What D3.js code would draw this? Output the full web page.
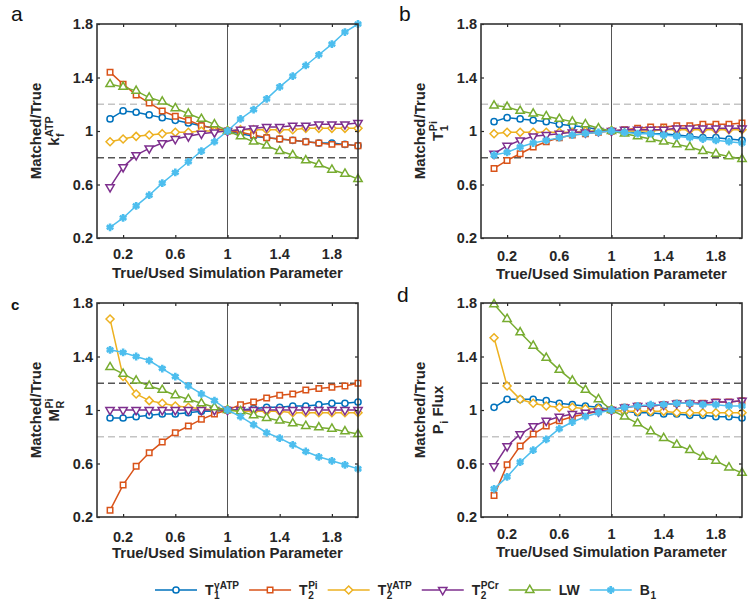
<!DOCTYPE html>
<html>
<head>
<meta charset="utf-8">
<script src="https://cdn.jsdelivr.net/npm/d3@7"></script>
<style>
  body { margin: 0; background: #fff; }
  text { font-family: "Liberation Sans", Arial, sans-serif; }
</style>
</head>
<body>
<svg id="chart" width="748" height="606"></svg>
<script>
// x values (true/used simulation parameter)
const xVals = [0.1, 0.2, 0.3, 0.4, 0.5, 0.6, 0.7, 0.8, 0.9, 1.0,
               1.1, 1.2, 1.3, 1.4, 1.5, 1.6, 1.7, 1.8, 1.9, 2.0];
const xTicks = [0.2, 0.6, 1, 1.4, 1.8];
const yTicks = [0.2, 0.6, 1, 1.4, 1.8];
const refLevels = [1.2, 0.8];

// panel a : kf ATP
const a_T1gATP = [1.09, 1.15, 1.14, 1.12, 1.10, 1.08, 1.06, 1.04, 1.02, 1.00, 0.98, 0.96, 0.95, 0.94, 0.93, 0.92, 0.91, 0.91, 0.90, 0.89];
const a_T2Pi   = [1.44, 1.35, 1.27, 1.21, 1.15, 1.11, 1.08, 1.04, 1.02, 1.00, 0.99, 0.97, 0.95, 0.94, 0.93, 0.92, 0.91, 0.90, 0.90, 0.89];
const a_T2gATP = [0.92, 0.94, 0.96, 0.97, 0.98, 0.99, 0.99, 1.00, 1.00, 1.00, 1.01, 1.01, 1.01, 1.01, 1.01, 1.02, 1.02, 1.02, 1.02, 1.02];
const a_T2PCr  = [0.58, 0.73, 0.82, 0.87, 0.91, 0.94, 0.96, 0.98, 0.99, 1.00, 1.01, 1.02, 1.03, 1.03, 1.04, 1.04, 1.05, 1.05, 1.05, 1.06];
const a_LW     = [1.35, 1.33, 1.30, 1.25, 1.22, 1.17, 1.13, 1.09, 1.05, 1.00, 0.96, 0.92, 0.89, 0.85, 0.82, 0.78, 0.75, 0.71, 0.68, 0.64];
const a_B1     = [0.28, 0.35, 0.44, 0.52, 0.61, 0.69, 0.77, 0.85, 0.92, 1.00, 1.09, 1.16, 1.24, 1.33, 1.41, 1.49, 1.57, 1.65, 1.74, 1.80];

// panel b : T1 Pi
const b_T1gATP = [1.07, 1.10, 1.09, 1.08, 1.07, 1.05, 1.04, 1.03, 1.01, 1.00, 0.99, 0.99, 0.98, 0.98, 0.97, 0.96, 0.95, 0.95, 0.94, 0.93];
const b_T2Pi   = [0.72, 0.78, 0.83, 0.88, 0.92, 0.95, 0.97, 0.98, 0.99, 1.00, 1.01, 1.02, 1.03, 1.03, 1.04, 1.04, 1.05, 1.05, 1.05, 1.06];
const b_T2gATP = [0.98, 0.99, 0.99, 0.99, 0.99, 0.99, 0.99, 1.00, 1.00, 1.00, 1.00, 1.00, 1.00, 1.01, 1.01, 1.01, 1.01, 1.01, 1.01, 1.01];
const b_T2PCr  = [0.83, 0.89, 0.93, 0.96, 0.97, 0.98, 0.99, 0.99, 1.00, 1.00, 1.01, 1.01, 1.01, 1.01, 1.02, 1.02, 1.02, 1.02, 1.02, 1.02];
const b_LW     = [1.19, 1.18, 1.15, 1.13, 1.11, 1.09, 1.07, 1.05, 1.02, 1.00, 0.98, 0.96, 0.94, 0.92, 0.90, 0.88, 0.85, 0.83, 0.81, 0.79];
const b_B1     = [0.82, 0.84, 0.88, 0.91, 0.93, 0.95, 0.97, 0.98, 0.99, 1.00, 0.99, 0.98, 0.98, 0.97, 0.96, 0.95, 0.94, 0.93, 0.92, 0.91];

// panel c : MR Pi
const c_T1gATP = [0.94, 0.94, 0.95, 0.96, 0.97, 0.97, 0.98, 0.99, 0.99, 1.00, 1.00, 1.01, 1.02, 1.02, 1.03, 1.03, 1.04, 1.05, 1.05, 1.06];
const c_T2Pi   = [0.25, 0.44, 0.58, 0.68, 0.76, 0.83, 0.88, 0.93, 0.97, 1.00, 1.04, 1.06, 1.09, 1.11, 1.12, 1.15, 1.16, 1.17, 1.18, 1.20];
const c_T2gATP = [1.68, 1.25, 1.12, 1.07, 1.05, 1.03, 1.02, 1.01, 1.00, 1.00, 0.99, 0.99, 0.99, 0.99, 0.98, 0.98, 0.98, 0.98, 0.98, 0.98];
const c_T2PCr  = [1.00, 1.00, 1.00, 1.00, 1.00, 1.00, 1.00, 1.00, 1.00, 1.00, 1.00, 1.00, 1.00, 1.00, 1.00, 1.00, 1.00, 1.00, 1.00, 1.00];
const c_LW     = [1.32, 1.27, 1.22, 1.18, 1.15, 1.11, 1.08, 1.05, 1.02, 1.00, 0.99, 0.96, 0.94, 0.92, 0.90, 0.88, 0.87, 0.86, 0.84, 0.82];
const c_B1     = [1.45, 1.43, 1.40, 1.37, 1.31, 1.25, 1.18, 1.12, 1.07, 1.00, 0.95, 0.89, 0.83, 0.79, 0.74, 0.69, 0.65, 0.62, 0.59, 0.56];

// panel d : Pi flux
const d_T1gATP = [1.02, 1.08, 1.08, 1.08, 1.07, 1.05, 1.04, 1.03, 1.02, 1.00, 0.99, 0.98, 0.98, 0.97, 0.97, 0.96, 0.96, 0.95, 0.95, 0.94];
const d_T2Pi   = [0.36, 0.59, 0.73, 0.82, 0.88, 0.92, 0.95, 0.97, 0.99, 1.00, 1.02, 1.03, 1.03, 1.04, 1.05, 1.05, 1.05, 1.06, 1.06, 1.07];
const d_T2gATP = [1.54, 1.18, 1.08, 1.05, 1.03, 1.02, 1.02, 1.01, 1.01, 1.00, 0.99, 0.99, 0.99, 0.99, 0.98, 0.98, 0.98, 0.98, 0.98, 0.98];
const d_T2PCr  = [0.58, 0.73, 0.82, 0.88, 0.92, 0.95, 0.97, 0.98, 0.99, 1.00, 1.02, 1.03, 1.03, 1.04, 1.05, 1.05, 1.05, 1.06, 1.06, 1.07];
const d_LW     = [1.79, 1.68, 1.58, 1.48, 1.39, 1.30, 1.22, 1.15, 1.08, 1.00, 0.95, 0.90, 0.84, 0.79, 0.74, 0.70, 0.65, 0.62, 0.57, 0.53];
const d_B1     = [0.41, 0.50, 0.61, 0.70, 0.78, 0.86, 0.91, 0.95, 0.98, 1.00, 1.02, 1.03, 1.04, 1.04, 1.05, 1.05, 1.04, 1.04, 1.03, 1.03];

// series look (order = drawing order)
const series = [
    {key: 'T1gATP', color: '#0072BD', marker: 'circle',   base: 'T', sub: '1', sup: '\u03B3ATP'},
    {key: 'T2Pi',   color: '#D95319', marker: 'square',   base: 'T', sub: '2', sup: 'Pi'},
    {key: 'T2gATP', color: '#EDB120', marker: 'diamond',  base: 'T', sub: '2', sup: '\u03B3ATP'},
    {key: 'T2PCr',  color: '#7E2F8E', marker: 'triDown',  base: 'T', sub: '2', sup: 'PCr'},
    {key: 'LW',     color: '#77AC30', marker: 'triUp',    base: 'LW', sub: '', sup: ''},
    {key: 'B1',     color: '#4DBEEE', marker: 'asterisk', base: 'B', sub: '1', sup: ''}
];

const panels = [
    {letter: 'a', lx: 11, ly: 21, lsize: 21, lweight: 400, left: 97, right: 358, top: 24, bottom: 238, tickY: 259, titleY: 278,
     ylab: {base: 'k', sub: 'f', sup: 'ATP', tail: ''}, dark: 0.8,
     data: [a_T1gATP, a_T2Pi, a_T2gATP, a_T2PCr, a_LW, a_B1]},
    {letter: 'b', lx: 399, ly: 21, lsize: 21, lweight: 400, left: 481, right: 742, top: 24, bottom: 238, tickY: 261, titleY: 279,
     ylab: {base: 'T', sub: '1', sup: 'Pi', tail: ''}, dark: 0.8,
     data: [b_T1gATP, b_T2Pi, b_T2gATP, b_T2PCr, b_LW, b_B1]},
    {letter: 'c', lx: 11, ly: 310, lsize: 15, lweight: 700, left: 97, right: 358, top: 303, bottom: 517, tickY: 542, titleY: 558,
     ylab: {base: 'M', sub: 'R', sup: 'Pi', tail: ''}, dark: 1.2,
     data: [c_T1gATP, c_T2Pi, c_T2gATP, c_T2PCr, c_LW, c_B1]},
    {letter: 'd', lx: 397, ly: 302, lsize: 21, lweight: 400, left: 481, right: 742, top: 303, bottom: 517, tickY: 539, titleY: 557,
     ylab: {base: 'P', sub: 'i', sup: '', tail: ' Flux'}, dark: 1.2,
     data: [d_T1gATP, d_T2Pi, d_T2gATP, d_T2PCr, d_LW, d_B1]}
];

const svg = d3.select('#chart');
const textColor = '#262626';

function markerPath(type) {
    if (type === 'circle') return d3.symbol(d3.symbolCircle, 30)();
    if (type === 'square') return d3.symbol(d3.symbolSquare, 30)();
    if (type === 'diamond') return 'M0,-4L4,0L0,4L-4,0Z';
    if (type === 'triUp') return d3.symbol(d3.symbolTriangle, 30)();
    if (type === 'triDown') return d3.symbol(d3.symbolTriangle, 30)();
    return d3.symbol(d3.symbolAsterisk, 42)();
}

function drawMarker(g, type, color, x, y) {
    const p = g.append('path')
        .attr('d', markerPath(type))
        .attr('transform', `translate(${x},${y})` + (type === 'triDown' ? ' rotate(180)' : ''))
        .attr('stroke', color);
    if (type === 'asterisk') {
        p.attr('fill', 'none').attr('stroke-width', 2.6);
    } else {
        p.attr('fill', '#fff').attr('stroke-width', 1.5);
    }
}

// base letter with stacked sub/superscript, returns total width
function scriptText(g, x, y, lab, size) {
    const t = g.append('text').attr('x', x).attr('y', y)
        .attr('font-size', size).attr('font-weight', 700).attr('fill', textColor)
        .text(lab.base);
    let w = t.node().getComputedTextLength();
    let extra = 0;
    const small = size * 0.72;
    if (lab.sup) {
        const s = g.append('text').attr('x', x + w + 0.5).attr('y', y - size * 0.42)
            .attr('font-size', small).attr('font-weight', 700).attr('fill', textColor).text(lab.sup);
        extra = Math.max(extra, s.node().getComputedTextLength() + 0.5);
    }
    if (lab.sub) {
        const s = g.append('text').attr('x', x + w + 0.5).attr('y', y + size * 0.32)
            .attr('font-size', small).attr('font-weight', 700).attr('fill', textColor).text(lab.sub);
        extra = Math.max(extra, s.node().getComputedTextLength() + 0.5);
    }
    w += extra;
    if (lab.tail) {
        const s = g.append('text').attr('x', x + w).attr('y', y)
            .attr('font-size', size).attr('font-weight', 700).attr('fill', textColor)
            .attr('xml:space', 'preserve').text(lab.tail);
        w += s.node().getComputedTextLength();
    }
    return w;
}

panels.forEach(p => {
    const x = d3.scaleLinear().domain([0, 2]).range([p.left, p.right]);
    const y = d3.scaleLinear().domain([0.2, 1.8]).range([p.bottom, p.top]);
    const g = svg.append('g');

    // panel letter
    svg.append('text').attr('x', p.lx).attr('y', p.ly)
        .attr('font-family', '"Open Sans", sans-serif')
        .attr('font-size', p.lsize).attr('font-weight', p.lweight).attr('fill', '#111')
        .text(p.letter);

    // reference lines
    refLevels.forEach(v => {
        g.append('line')
            .attr('x1', p.left).attr('x2', p.right)
            .attr('y1', y(v)).attr('y2', y(v))
            .attr('stroke', v === p.dark ? '#555' : '#c4c4c4')
            .attr('stroke-width', 1.6)
            .attr('stroke-dasharray', '7,4');
    });
    g.append('line')
        .attr('x1', x(1)).attr('x2', x(1))
        .attr('y1', p.top).attr('y2', p.bottom)
        .attr('stroke', '#555').attr('stroke-width', 1);

    // series
    const lineFun = d3.line().x((d, i) => x(xVals[i])).y(d => y(d));
    series.forEach((s, si) => {
        const vals = p.data[si];
        g.append('path')
            .attr('d', lineFun(vals))
            .attr('fill', 'none')
            .attr('stroke', s.color)
            .attr('stroke-width', 1.5);
        vals.forEach((v, i) => drawMarker(g, s.marker, s.color, x(xVals[i]), y(v)));
    });

    // axes, ticks pointing inside, box on
    const axG = svg.append('g');
    axG.append('g').attr('transform', `translate(0,${p.bottom})`)
        .call(d3.axisBottom(x).tickValues(xTicks).tickSize(-3).tickFormat(''));
    axG.append('g').attr('transform', `translate(0,${p.top})`)
        .call(d3.axisTop(x).tickValues(xTicks).tickSize(-3).tickFormat(''));
    axG.append('g').attr('transform', `translate(${p.left},0)`)
        .call(d3.axisLeft(y).tickValues(yTicks).tickSize(-3).tickFormat(''));
    axG.append('g').attr('transform', `translate(${p.right},0)`)
        .call(d3.axisRight(y).tickValues(yTicks).tickSize(-3).tickFormat(''));
    axG.selectAll('.domain').remove();
    axG.selectAll('line').attr('stroke', '#262626').attr('stroke-width', 1.2);
    axG.append('rect')
        .attr('x', p.left).attr('y', p.top)
        .attr('width', p.right - p.left).attr('height', p.bottom - p.top)
        .attr('fill', 'none').attr('stroke', '#333').attr('stroke-width', 1.6);

    // tick labels
    const fmt = d => d3.format('~g')(d);
    axG.selectAll('.xl').data(xTicks).enter().append('text')
        .attr('x', d => x(d)).attr('y', p.tickY)
        .attr('text-anchor', 'middle').attr('font-size', 14.5).attr('font-weight', 700)
        .attr('fill', textColor).text(fmt);
    axG.selectAll('.yl').data(yTicks).enter().append('text')
        .attr('x', p.left - 4).attr('y', d => y(d) + 5)
        .attr('text-anchor', 'end').attr('font-size', 14.5).attr('font-weight', 700)
        .attr('fill', textColor).text(fmt);

    // axis titles
    axG.append('text')
        .attr('x', (p.left + p.right) / 2).attr('y', p.titleY)
        .attr('text-anchor', 'middle').attr('font-size', 15).attr('font-weight', 700)
        .attr('fill', textColor).text('True/Used Simulation Parameter');

    const cy = (p.top + p.bottom) / 2;
    const yl = axG.append('g').attr('transform', `translate(${p.left - 56},${cy}) rotate(-90)`);
    yl.append('text').attr('x', 0).attr('y', 0)
        .attr('text-anchor', 'middle').attr('font-size', 15).attr('font-weight', 700)
        .attr('fill', textColor).text('Matched/True');
    const yl2 = axG.append('g');
    const w = scriptText(yl2, 0, 0, p.ylab, 15);
    yl2.attr('transform', `translate(${p.left - 38},${cy}) rotate(-90) translate(${-w / 2},0)`);
});

// legend
const legend = svg.append('g');
let lx = 155;
const legY = 590;
series.forEach(s => {
    legend.append('line')
        .attr('x1', lx).attr('x2', lx + 42)
        .attr('y1', legY).attr('y2', legY)
        .attr('stroke', s.color).attr('stroke-width', 1.5);
    drawMarker(legend, s.marker, s.color, lx + 21, legY);
    const tg = legend.append('g');
    const w = scriptText(tg, lx + 50, legY + 5, s, 14);
    lx += 50 + w + 10;
});
</script>
</body>
</html>
